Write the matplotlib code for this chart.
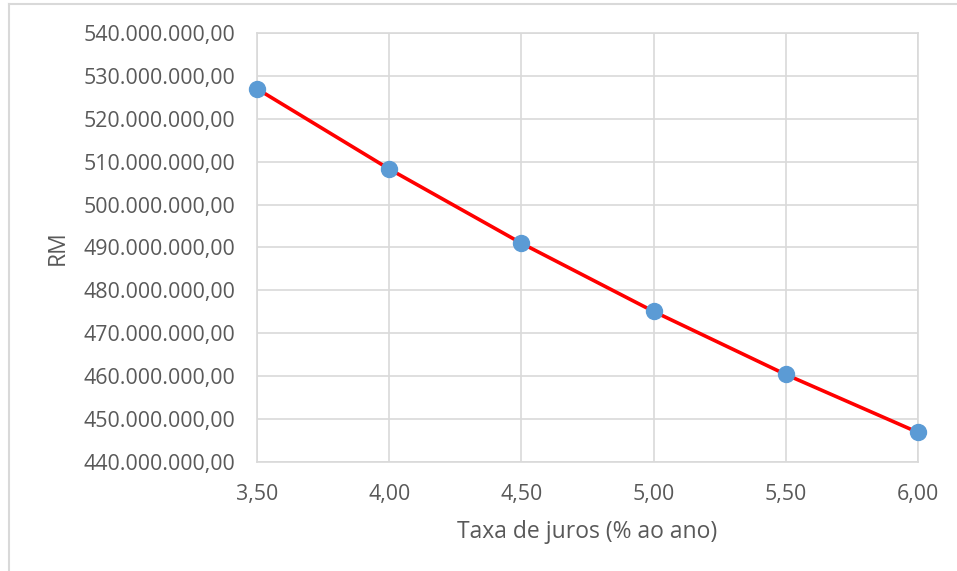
import matplotlib

matplotlib.use("Agg")
import matplotlib.pyplot as plt  # noqa: E402
from matplotlib.lines import Line2D  # noqa: E402
from matplotlib.ticker import FuncFormatter  # noqa: E402

taxa = [3.5, 4.0, 4.5, 5.0, 5.5, 6.0]
rm = [527.0e6, 508.3e6, 491.0e6, 475.1e6, 460.4e6, 446.9e6]
x_ticks = [3.5, 4.0, 4.5, 5.0, 5.5, 6.0]
y_ticks = [440e6 + i * 10e6 for i in range(11)]

plt.rcParams["font.family"] = ["Open Sans", "DejaVu Sans"]
text_color = "#595959"
grid_color = "#d9d9d9"


def br_money(v, _pos=None):
    s = f"{v:,.2f}"
    return s.replace(",", "X").replace(".", ",").replace("X", ".")


def br_dec(v, _pos=None):
    return f"{v:.2f}".replace(".", ",")


fig = plt.figure(figsize=(9.57, 5.71), dpi=100)
ax = fig.add_axes([0.2685, 0.1909, 0.6907, 0.7513])

ax.plot(taxa, rm, color="#ff0000", lw=2.6, zorder=3, clip_on=False)
ax.plot(taxa, rm, ls="none", marker="o", ms=11.5, color="#5b9bd5", zorder=4,
        clip_on=False)

ax.set_xlim(3.5, 6.0)
ax.set_ylim(440e6, 540e6)
ax.set_xticks(x_ticks)
ax.set_yticks(y_ticks)
ax.xaxis.set_major_formatter(FuncFormatter(br_dec))
ax.yaxis.set_major_formatter(FuncFormatter(br_money))
ax.grid(True, color=grid_color, lw=1.2)
ax.set_axisbelow(True)
for sp in ax.spines.values():
    sp.set_color(grid_color)
    sp.set_linewidth(1.2)
ax.tick_params(length=0, labelsize=15.4, colors=text_color, pad=15.5)
ax.tick_params(axis="x", pad=16)

ax.set_xlabel("Taxa de juros (% ao ano)", fontsize=16.5, color=text_color, labelpad=11)
ax.set_ylabel("RM", fontsize=16.5, color=text_color, labelpad=10)

# outer chart frame (cropped)
fig.add_artist(Line2D([0.0094, 0.0094], [0.0, 0.993], color=grid_color, lw=1.5))
fig.add_artist(Line2D([0.0094, 1.0], [0.993, 0.993], color=grid_color, lw=1.5))

fig.savefig("out.png", dpi=100)
plt.close(fig)
